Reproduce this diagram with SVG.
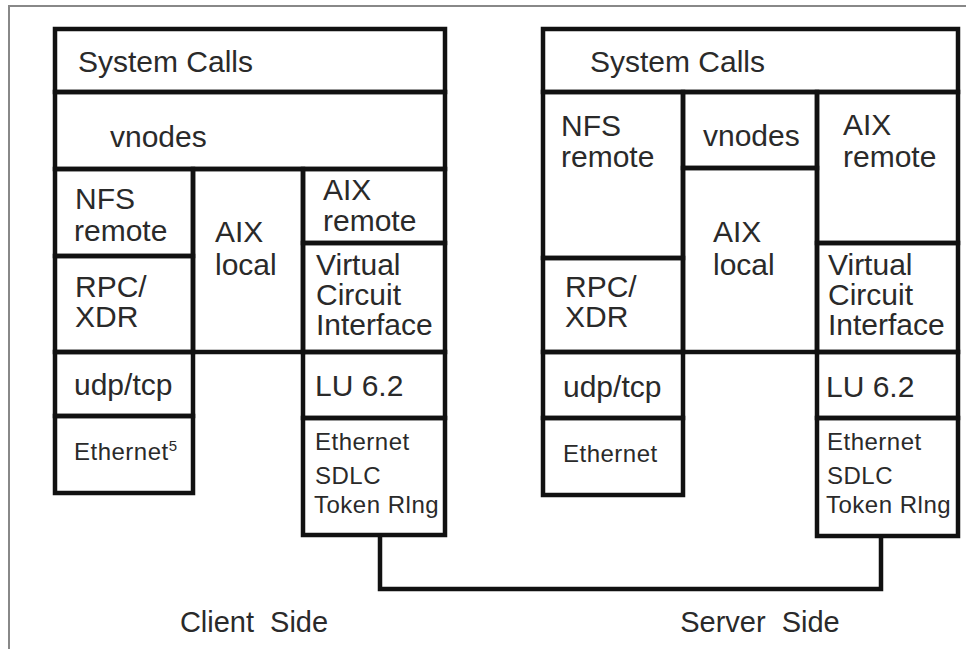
<svg xmlns="http://www.w3.org/2000/svg" width="966" height="649" viewBox="0 0 966 649">
<style>
  .box { fill: none; stroke: #111; stroke-width: 4.5; stroke-linejoin: miter; }
  .t { font-family: "Liberation Sans", Arial, sans-serif; font-size: 30px; fill: #2a2a2a; }
  .s { font-family: "Liberation Sans", Arial, sans-serif; font-size: 24px; letter-spacing: 0.5px; fill: #2a2a2a; }
  .cap { font-family: "Liberation Sans", Arial, sans-serif; font-size: 29px; word-spacing: 8px; fill: #2a2a2a; text-anchor: middle; }
  .frame { stroke: #888; stroke-width: 2; fill: none; }
  .conn { fill: none; stroke: #111; stroke-width: 4.5; }
</style>
<defs>
  <clipPath id="clipC"><rect x="303" y="418" width="142" height="117"/></clipPath>
  <clipPath id="clipS"><rect x="817" y="418" width="141" height="118"/></clipPath>
</defs>
<rect x="0" y="0" width="966" height="649" fill="#ffffff"/>
<path class="frame" d="M9,649 V6 H966"/>

<g id="client">
  <g id="c-syscalls"><rect class="box" x="55" y="29" width="390" height="63"/><text class="t" x="78" y="72">System Calls</text></g>
  <g id="c-vnodes"><rect class="box" x="55" y="92" width="390" height="77"/><text class="t" x="110" y="147">vnodes</text></g>
  <g id="c-nfs"><rect class="box" x="55" y="169" width="138" height="87"/><text class="t" x="75" y="209">NFS</text><text class="t" x="74" y="241">remote</text></g>
  <g id="c-rpc"><rect class="box" x="55" y="256" width="138" height="96"/><text class="t" x="75" y="297">RPC/</text><text class="t" x="75" y="327">XDR</text></g>
  <g id="c-aixlocal"><rect class="box" x="193" y="169" width="110" height="183"/><text class="t" x="215" y="242">AIX</text><text class="t" x="215" y="275">local</text></g>
  <g id="c-aixremote"><rect class="box" x="303" y="169" width="142" height="74"/><text class="t" x="323" y="200">AIX</text><text class="t" x="323" y="231">remote</text></g>
  <g id="c-vci"><rect class="box" x="303" y="243" width="142" height="109"/><text class="t" x="316" y="275">Virtual</text><text class="t" x="316" y="305">Circuit</text><text class="t" x="316" y="335">Interface</text></g>
  <g id="c-udp"><rect class="box" x="55" y="352" width="138" height="64"/><text class="t" x="74" y="395">udp/tcp</text></g>
  <g id="c-eth"><rect class="box" x="55" y="416" width="138" height="77"/><text class="s" x="74" y="460">Ethernet<tspan font-size="15" dy="-9" letter-spacing="0">5</tspan></text></g>
  <g id="c-lu"><rect class="box" x="303" y="352" width="142" height="66"/><text class="t" x="315" y="396">LU 6.2</text></g>
  <g id="c-links"><g clip-path="url(#clipC)"><text class="s" x="315" y="450">Ethernet</text><text class="s" x="315" y="484">SDLC</text><text class="s" x="314" y="513">Token Rlng</text></g><rect class="box" x="303" y="418" width="142" height="117"/></g>
</g>

<g id="server">
  <g id="s-syscalls"><rect class="box" x="543" y="29" width="415" height="63"/><text class="t" x="590" y="72">System Calls</text></g>
  <g id="s-nfs"><rect class="box" x="543" y="92" width="140" height="166"/><text class="t" x="561" y="136">NFS</text><text class="t" x="561" y="167">remote</text></g>
  <g id="s-rpc"><rect class="box" x="543" y="258" width="140" height="94"/><text class="t" x="565" y="297">RPC/</text><text class="t" x="565" y="327">XDR</text></g>
  <g id="s-vnodes"><rect class="box" x="683" y="92" width="134" height="76"/><text class="t" x="703" y="146">vnodes</text></g>
  <g id="s-aixlocal"><rect class="box" x="683" y="168" width="134" height="184"/><text class="t" x="713" y="242">AIX</text><text class="t" x="713" y="275">local</text></g>
  <g id="s-aixremote"><rect class="box" x="817" y="92" width="141" height="151"/><text class="t" x="843" y="135">AIX</text><text class="t" x="843" y="167">remote</text></g>
  <g id="s-vci"><rect class="box" x="817" y="243" width="141" height="109"/><text class="t" x="828" y="275">Virtual</text><text class="t" x="828" y="305">Circuit</text><text class="t" x="828" y="335">Interface</text></g>
  <g id="s-udp"><rect class="box" x="543" y="352" width="140" height="66"/><text class="t" x="563" y="397">udp/tcp</text></g>
  <g id="s-eth"><rect class="box" x="543" y="418" width="140" height="77"/><text class="s" x="563" y="462">Ethernet</text></g>
  <g id="s-lu"><rect class="box" x="817" y="352" width="141" height="66"/><text class="t" x="826" y="397">LU 6.2</text></g>
  <g id="s-links"><g clip-path="url(#clipS)"><text class="s" x="827" y="450">Ethernet</text><text class="s" x="827" y="484">SDLC</text><text class="s" x="826" y="513">Token Rlng</text></g><rect class="box" x="817" y="418" width="141" height="118"/></g>
</g>

<g id="connectors">
  <path class="conn" d="M380,535 V589 H881 V536"/>
</g>

<g id="captions">
  <text class="cap" x="254" y="632">Client Side</text>
  <text class="cap" x="760" y="632">Server Side</text>
</g>
</svg>
